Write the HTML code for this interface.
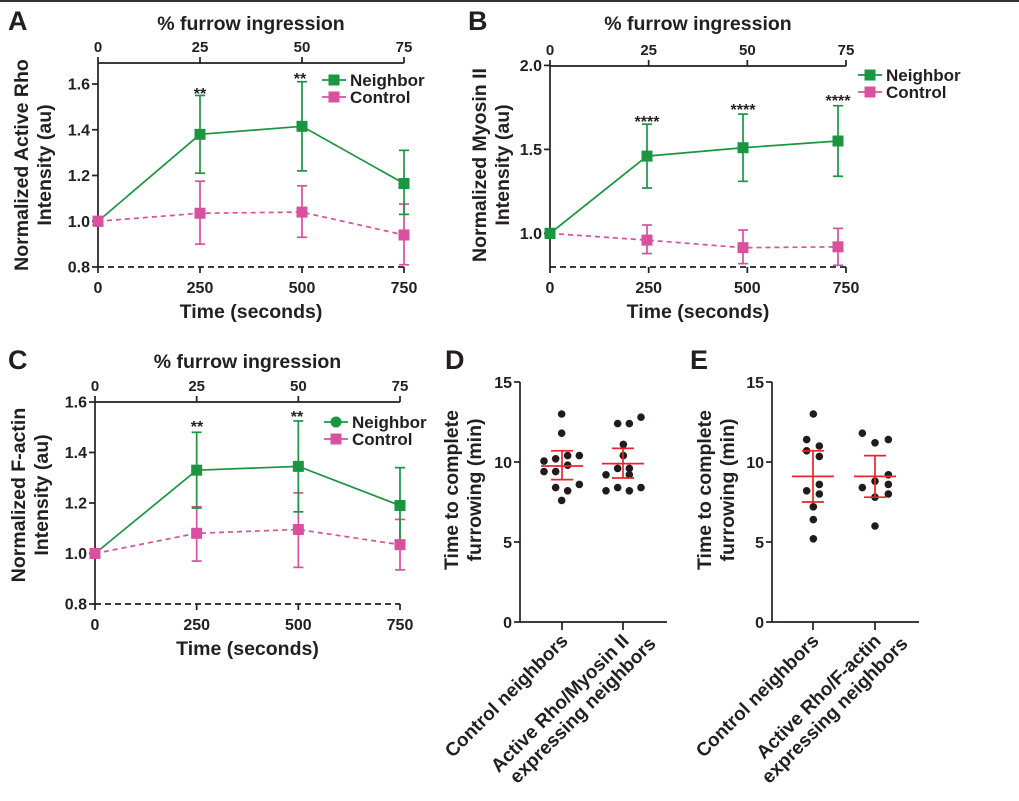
<!DOCTYPE html>
<html><head><meta charset="utf-8"><style>
html,body{margin:0;padding:0;background:#fff;}
svg{display:block;font-family:"Liberation Sans",Arial,sans-serif;font-weight:bold;}
</style></head><body>
<svg id="s" width="1019" height="801" viewBox="0 0 1019 801" xmlns="http://www.w3.org/2000/svg">
<rect width="1019" height="801" fill="#fff"/>
<line x1="0" y1="1" x2="1019" y2="1" stroke="#333" stroke-width="2"/>
</svg>
<script>
const S=document.getElementById('s');
const NS='http://www.w3.org/2000/svg';
function el(t,a,txt){const e=document.createElementNS(NS,t);for(const k in a)e.setAttribute(k,a[k]);if(txt!==undefined)e.textContent=txt;S.appendChild(e);return e;}
const G='#1a9641',P='#d9509e',K='#231f20';
function line(x1,y1,x2,y2,c,w,d){const a={x1,y1,x2,y2,stroke:c||K,'stroke-width':w||1.5};if(d)a['stroke-dasharray']=d;return el('line',a);}
function text(x,y,s,sz,anc,extra){const a=Object.assign({x,y,'font-size':sz,'text-anchor':anc||'middle',fill:K},extra||{});return el('text',a,s);}
function sq(x,y,c,r){el('rect',{x:x-(r||5),y:y-(r||5),width:2*(r||5),height:2*(r||5),fill:c});}

function lineChart(o){
 const X=t=>o.x0+(o.x1-o.x0)*t/750;
 const Y=v=>o.yb-(v-o.ymin)*o.k;
 text(o.lx,o.ly,o.letter,27,'start');
 text((o.x0+o.x1)/2,o.titleY,'% furrow ingression',19.5);
 line(o.x0,o.yt,o.x1,o.yt,K,1.7);
 [0,25,50,75].forEach((p,i)=>{const x=X(i*250);line(x,o.yt,x,o.yt-6,K,1.7);text(x,o.yt-11,String(p),15);});
 line(o.x0,o.yt,o.x0,o.yb,K,1.7);
 o.yticks.forEach(v=>{const y=Y(v);line(o.x0-6,y,o.x0,y,K,1.7);text(o.x0-8,y+5.5,v.toFixed(1),16,'end');});
 line(o.x0,o.yb,o.x1,o.yb,K,1.7,'6,4');
 [0,250,500,750].forEach(t=>{const x=X(t);line(x,o.yb,x,o.yb+6,K,1.7);text(x,o.yb+26,String(t),16);});
 text((o.x0+o.x1)/2,o.yb+51,'Time (seconds)',19.5);
 const cy=o.ycen;
 text(o.tx1,cy,o.yt1,19.5,'middle',{transform:`rotate(-90 ${o.tx1} ${cy})`});
 text(o.tx2,cy,o.yt2,19.5,'middle',{transform:`rotate(-90 ${o.tx2} ${cy})`});
 const ts=[0,250,500,750];
 [[o.ctl,P,'5,4'],[o.nb,G,null]].forEach(([d,c,dash])=>{
   const xs=o.px||ts.map(X);
   const pts=d.map((p,i)=>xs[i]+','+Y(p[0])).join(' ');
   const a={points:pts,fill:'none',stroke:c,'stroke-width':1.7};if(dash)a['stroke-dasharray']=dash;el('polyline',a);
   d.forEach((p,i)=>{if(p.length>1){const x=xs[i];line(x,Y(p[1]),x,Y(p[2]),c,1.7);line(x-5,Y(p[1]),x+5,Y(p[1]),c,1.7);line(x-5,Y(p[2]),x+5,Y(p[2]),c,1.7);}});
 });
 [[o.ctl,P],[o.nb,G]].forEach(([d,c],j)=>{const xs=o.px||ts.map(X);d.forEach((p,i)=>{ if(i===0&&j===1&&!o.greenFirst)return; sq(xs[i],Y(p[0]),c,5.5);});});
 if(!o.greenFirst) sq(o.x0,Y(1),P,5.5); else sq(o.x0,Y(1),G,5.5);
 o.stars.forEach(s=>text(s[0],s[1],s[2],16));
 const lg=o.leg;
 line(lg[0],lg[1],lg[0]+24,lg[1],G,1.7);
 if(o.circ)el('circle',{cx:lg[0]+12,cy:lg[1],r:5.5,fill:G});else sq(lg[0]+12,lg[1],G,5.5);
 line(lg[0],lg[1]+17,lg[0]+24,lg[1]+17,P,1.7);sq(lg[0]+12,lg[1]+17,P,5.5);
 text(lg[0]+28,lg[1]+6,'Neighbor',17,'start');
 text(lg[0]+28,lg[1]+23,'Control',17,'start');
}

lineChart({letter:'A',lx:8,ly:30,x0:98,x1:404,yt:63,yb:267,ymin:0.8,k:(267-84)/0.8,titleY:30,
 yticks:[0.8,1.0,1.2,1.4,1.6],tx1:28,tx2:51,ycen:165,yt1:'Normalized Active Rho',yt2:'Intensity (au)',
 nb:[[1],[1.38,1.21,1.55],[1.415,1.22,1.61],[1.165,1.03,1.31]],
 ctl:[[1],[1.035,0.90,1.175],[1.04,0.93,1.155],[0.94,0.81,1.075]],
 stars:[[200,99,'**'],[300,84,'**']],leg:[322,80]});

lineChart({letter:'B',lx:468,ly:30,x0:550,x1:846,yt:66,yb:267,ymin:0.8,k:(234-66)/1.0,titleY:30,
 yticks:[1.0,1.5,2.0],tx1:486,tx2:509,ycen:165,yt1:'Normalized Myosin II',yt2:'Intensity (au)',
 px:[550,647,743,838],greenFirst:true,
 nb:[[1],[1.46,1.27,1.65],[1.51,1.31,1.71],[1.55,1.34,1.76]],
 ctl:[[1],[0.96,0.88,1.05],[0.915,0.82,1.02],[0.92,0.81,1.03]],
 stars:[[647,127,'****'],[743,115,'****'],[838,106,'****']],leg:[858,75]});

lineChart({letter:'C',lx:8,ly:369,x0:95,x1:400,yt:402,yb:604,ymin:0.8,k:(604-402)/0.8,titleY:368,
 yticks:[0.8,1.0,1.2,1.4,1.6],tx1:25,tx2:48,ycen:495,yt1:'Normalized F-actin',yt2:'Intensity (au)',
 nb:[[1],[1.33,1.18,1.48],[1.345,1.165,1.525],[1.19,1.04,1.34]],
 ctl:[[1],[1.08,0.97,1.185],[1.095,0.945,1.24],[1.035,0.935,1.135]],
 stars:[[197,432,'**'],[297,422,'**']],leg:[324,422],circ:true});

function dot(ax,letter,lxs,ttx,groups,labels){
 const X0=ax, Y=v=>622-v*16;
 text(lxs,369,letter,27,'start');
 line(X0,382,X0,622,K,1.7);
 line(X0,622,ax+147,622,K,1.7);
 [0,5,10,15].forEach(v=>{line(X0-6,Y(v),X0,Y(v),K,1.7);text(X0-8,Y(v)+6,String(v),16,'end');});
 groups.forEach((g,gi)=>{
   const cx=g.cx; line(cx,622,cx,630,K,1.7);
   g.pts.forEach(p=>el('circle',{cx:440+p[0]/3,cy:Y(p[1]),r:3.8,fill:'#231a1a'}));
   const R='#e8262b';
   line(cx-21,Y(g.m),cx+21,Y(g.m),R,1.7);
   line(cx,Y(g.lo),cx,Y(g.hi),R,1.7);
   line(cx-11,Y(g.lo),cx+11,Y(g.lo),R,1.7);line(cx-11,Y(g.hi),cx+11,Y(g.hi),R,1.7);
 });
 const cy=490;
 text(ttx,cy,'Time to complete',19.5,'middle',{transform:`rotate(-90 ${ttx} ${cy})`});
 text(ttx+23,cy,'furrowing (min)',19.5,'middle',{transform:`rotate(-90 ${ttx+23} ${cy})`});
 const c1=groups[0].cx,c2=groups[1].cx;
 text(c1+7,642,labels[0],19,'end',{transform:`rotate(-45 ${c1+7} 642)`});
 const t=el('text',{x:0,y:0,'font-size':19,'text-anchor':'end',fill:K,transform:`translate(${c2+7} 642) rotate(-45)`});
 const s1=document.createElementNS(NS,'tspan');s1.setAttribute('x',0);s1.setAttribute('dy',0);s1.textContent=labels[1];t.appendChild(s1);
 const s2=document.createElementNS(NS,'tspan');s2.setAttribute('x',17);s2.setAttribute('dy',21);s2.textContent=labels[2];t.appendChild(s2);
}
dot(520,'D',445,458,[
 {cx:562,m:9.75,lo:8.9,hi:10.7,pts:[[365,13],[365,11.8],[312,10.06],[347,10.2],[383,10.4],[418,10.4],[383,9.8],[312,9.4],[347,9.4],[347,8.4],[383,8.2],[418,8.6],[365,7.6]]},
 {cx:623,m:9.9,lo:9.0,hi:10.85,pts:[[533,12.4],[568,12.4],[603,12.8],[550,11.1],[550,10.4],[533,9.6],[568,9.6],[498,9.2],[568,9.2],[533,8.4],[603,8.4],[498,8.2],[568,8.2]]}
],['Control neighbors','Active Rho/Myosin II','expressing neighbors']);
dot(772,'E',690,711,[
 {cx:813,m:9.1,lo:7.5,hi:10.7,pts:[[1120,13],[1100,11.4],[1138,11],[1100,10.7],[1138,10.35],[1100,8.2],[1138,8.0],[1138,8.6],[1120,7.2],[1120,6.4],[1120,5.2]]},
 {cx:875,m:9.1,lo:7.8,hi:10.4,pts:[[1267,11.8],[1305,11.2],[1345,11.4],[1345,9.2],[1267,8.4],[1305,8.8],[1345,8.6],[1345,8.0],[1305,7.8],[1305,6.0]]}
],['Control neighbors','Active Rho/F-actin','expressing neighbors']);
</script>
</body></html>
